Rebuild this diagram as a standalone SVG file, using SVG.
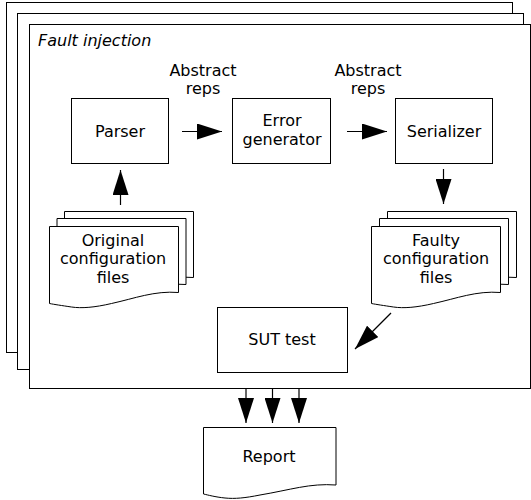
<svg xmlns="http://www.w3.org/2000/svg" width="531" height="500" viewBox="0 0 531 500">
<style>
.fr{fill:#fff;stroke:#000;stroke-width:1}
.bx{fill:#fff;stroke:#000;stroke-width:1}
.t{font-family:"DejaVu Sans",sans-serif;font-size:16px;fill:#000;text-anchor:middle}
.ti{font-family:"DejaVu Sans",sans-serif;font-size:16px;font-style:italic;fill:#000}
.c{fill:none;stroke:#000;stroke-width:1.2}
</style>
<defs>
<marker id="ah" viewBox="0 0 25 16" refX="25" refY="8" markerWidth="25" markerHeight="16" orient="auto" markerUnits="userSpaceOnUse">
<path d="M0,0 L25,8 L0,16 Z" fill="#000"/>
</marker>
<path id="doc" d="M0,0 H129 V66 C105,64 85,72 62,77 C45,81 32,82 22,80.5 C12,79 5,78 0,77 Z"/>
</defs>
<g id="frames">
<rect class="fr" x="6.5" y="2.5" width="506" height="350"/>
<rect class="fr" x="17.5" y="13.5" width="506" height="356"/>
<rect class="fr" x="29.5" y="24.5" width="501" height="364"/>
<text class="ti" x="38" y="46">Fault injection</text>
</g>
<g id="parser">
<rect class="bx" x="71.5" y="98.5" width="97" height="65"/>
<text class="t" x="120" y="136.5">Parser</text>
</g>
<g id="error-generator">
<rect class="bx" x="232.5" y="98.5" width="98" height="65"/>
<text class="t" x="282" y="126">Error</text>
<text class="t" x="282" y="144.5">generator</text>
</g>
<g id="serializer">
<rect class="bx" x="395.5" y="98.5" width="97" height="65"/>
<text class="t" x="444" y="136.5">Serializer</text>
</g>
<g id="original-files">
<use href="#doc" x="64.5" y="211.5" fill="#fff" stroke="#000"/>
<use href="#doc" x="57" y="218.5" fill="#fff" stroke="#000"/>
<use href="#doc" x="49.5" y="226.5" fill="#fff" stroke="#000"/>
<text class="t" x="113" y="245.5">Original</text>
<text class="t" x="113" y="264">configuration</text>
<text class="t" x="113" y="282.5">files</text>
</g>
<g id="faulty-files">
<use href="#doc" x="387.5" y="211.5" fill="#fff" stroke="#000"/>
<use href="#doc" x="379.5" y="218.5" fill="#fff" stroke="#000"/>
<use href="#doc" x="371.5" y="226.5" fill="#fff" stroke="#000"/>
<text class="t" x="436" y="245.5">Faulty</text>
<text class="t" x="436" y="264">configuration</text>
<text class="t" x="436" y="282.5">files</text>
</g>
<g id="sut-test">
<rect class="bx" x="217.5" y="307.5" width="130" height="65"/>
<text class="t" x="282" y="345">SUT test</text>
</g>
<g id="report">
<path d="M203.5,427.5 H336 V485 C310,483 290,490 260,495 C245,498 235,499 225,498 C215,497 208,495 203.5,494 Z" fill="#fff" stroke="#000"/>
<text class="t" x="269" y="462">Report</text>
</g>
<g id="labels">
<text class="t" x="203" y="75.5">Abstract</text>
<text class="t" x="203" y="94">reps</text>
<text class="t" x="368" y="75.5">Abstract</text>
<text class="t" x="368" y="94">reps</text>
</g>
<g id="connectors">
<line class="c" x1="182" y1="131.5" x2="222" y2="131.5" marker-end="url(#ah)"/>
<line class="c" x1="347" y1="131.5" x2="387" y2="131.5" marker-end="url(#ah)"/>
<line class="c" x1="120.5" y1="205" x2="120.5" y2="170" marker-end="url(#ah)"/>
<line class="c" x1="443.5" y1="169" x2="443.5" y2="204" marker-end="url(#ah)"/>
<line class="c" x1="391" y1="313" x2="355" y2="349" marker-end="url(#ah)"/>
<line class="c" x1="246" y1="388" x2="246" y2="423" marker-end="url(#ah)"/>
<line class="c" x1="272.5" y1="388" x2="272.5" y2="423" marker-end="url(#ah)"/>
<line class="c" x1="299" y1="388" x2="299" y2="423" marker-end="url(#ah)"/>
</g>
</svg>
